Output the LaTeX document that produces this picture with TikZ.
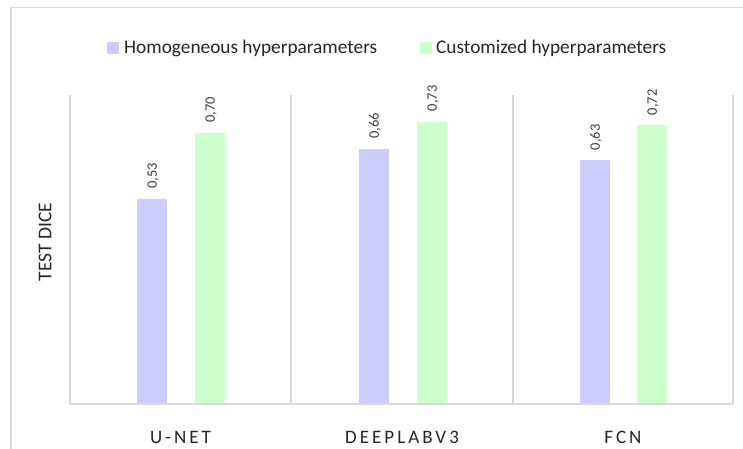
\documentclass[tikz,border=0pt]{standalone}
\usepackage{fontspec}
\setmainfont{Carlito}
\definecolor{blueb}{HTML}{CCCCFF}
\definecolor{greenb}{HTML}{CCFFCC}
\definecolor{gridc}{HTML}{D9D9D9}
\definecolor{txt}{HTML}{262626}
\definecolor{valtxt}{HTML}{404040}
\begin{document}
\begin{tikzpicture}[x=1pt,y=-1pt,
  axisline/.style={draw=gridc,line width=1.5pt},
  frameline/.style={draw=gridc,line width=1.5pt},
  bar/.style={minimum width=30pt,inner sep=0pt,outer sep=0pt,anchor=south},
  val/.style={rotate=90,anchor=west,inner sep=0pt,font=\fontsize{14.5}{16}\selectfont,text=valtxt},
  cat/.style={anchor=center,inner sep=0pt,font=\fontsize{19}{22}\selectfont\addfontfeature{LetterSpace=16},text=txt},
  legtext/.style={anchor=west,inner sep=0pt,font=\fontsize{19.3}{22}\selectfont,text=txt},
  legbox/.style={minimum size=12pt,inner sep=0pt,outer sep=0pt}]
\useasboundingbox (0,0) rectangle (743,448);
\fill[white] (0,0) rectangle (743,448);
% outer chart frame (cut off at right and bottom)
\draw[frameline] (11,460) -- (11,7.5) -- (760,7.5);
% legend
\node[legbox,fill=blueb] (lb1) at (113,48) {};
\node[legtext] (lt1) at (124,48) {Homogeneous hyperparameters};
\node[legbox,fill=greenb] (lb2) at (425.5,48) {};
\node[legtext] (lt2) at (436,48) {Customized hyperparameters};
% plot area lines
\coordinate (tl) at (70,95);
\coordinate (bl) at (70,404);
\coordinate (s1t) at (291,95);
\coordinate (s1b) at (291,404);
\coordinate (s2t) at (513,95);
\coordinate (s2b) at (513,404);
\coordinate (tr) at (733,95);
\coordinate (br) at (733,404);
% bars (scale: 387pt per unit)
\node[bar,fill=blueb,minimum height=205.1pt] (u1) at (152,404) {};
\node[bar,fill=greenb,minimum height=270.9pt] (u2) at (210,404) {};
\node[bar,fill=blueb,minimum height=255.4pt] (d1) at (374,404) {};
\node[bar,fill=greenb,minimum height=282.5pt] (d2) at (432,404) {};
\node[bar,fill=blueb,minimum height=243.8pt] (f1) at (595,404) {};
\node[bar,fill=greenb,minimum height=278.6pt] (f2) at (652,404) {};
\draw[axisline] (tl) -- (bl);
\draw[axisline] (s1t) -- (s1b);
\draw[axisline] (s2t) -- (s2b);
\draw[axisline] (tr) -- (br);
\draw[axisline] (bl) -- (br);
% value labels
\node[val] (vu1) at ([xshift=1pt,yshift=10pt]u1.north) {0,53};
\node[val] (vu2) at ([xshift=1pt,yshift=10pt]u2.north) {0,70};
\node[val] (vd1) at ([xshift=1pt,yshift=10pt]d1.north) {0,66};
\node[val] (vd2) at ([xshift=1pt,yshift=10pt]d2.north) {0,73};
\node[val] (vf1) at ([xshift=1pt,yshift=10pt]f1.north) {0,63};
\node[val] (vf2) at ([xshift=1pt,yshift=10pt]f2.north) {0,72};
% category labels
\node[cat] (c1) at (180.5,437) {U-NET};
\node[cat] (c2) at (402,437) {DEEPLABV3};
\node[cat] (c3) at (623,437) {FCN};
% y axis title
\node[rotate=90,inner sep=0pt,font=\fontsize{19.5}{22}\selectfont,text=txt] (yt) at (45,242) {TEST DICE};
\end{tikzpicture}
\end{document}
